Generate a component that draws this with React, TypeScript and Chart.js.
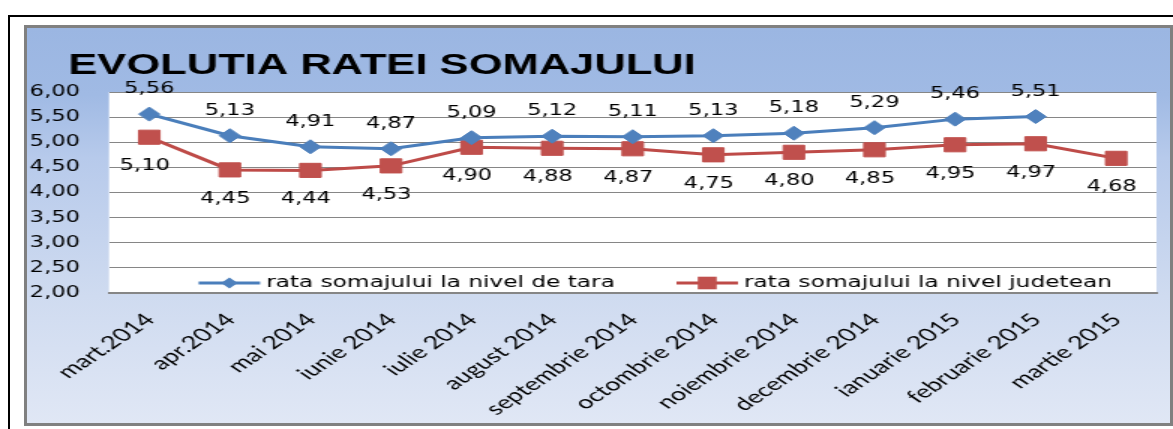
import React, { useEffect, useRef } from 'react';
import { Chart, registerables } from 'chart.js';

Chart.register(...registerables);

// ---- data ----
const categories = [
  'mart.2014', 'apr.2014', 'mai 2014', 'iunie 2014', 'iulie 2014', 'august 2014',
  'septembrie 2014', 'octombrie 2014', 'noiembrie 2014', 'decembrie 2014',
  'ianuarie 2015', 'februarie 2015', 'martie 2015',
];
const nationalRate: (number | null)[] = [5.56, 5.13, 4.91, 4.87, 5.09, 5.12, 5.11, 5.13, 5.18, 5.29, 5.46, 5.51, null];
const countyRate: (number | null)[] = [5.10, 4.45, 4.44, 4.53, 4.90, 4.88, 4.87, 4.75, 4.80, 4.85, 4.95, 4.97, 4.68];
const seriesLabels = ['rata somajului la nivel de tara', 'rata somajului la nivel judetean'];
const titleText = 'EVOLUTIA RATEI SOMAJULUI';
const yMin = 2;
const yMax = 6;
const yStep = 0.5;

// ---- look ----
const STRETCH = 1.5; // the whole picture is horizontally stretched
const PAGE_W = 1173;
const PAGE_H = 429;
const BLUE = '#4F81BD';
const RED = '#C0504D';
const GRID = '#868686';
const fmt = (v: number) => v.toFixed(2).replace('.', ',');

const plotBg = {
  id: 'plotBg',
  afterLayout(chart: any) {
    if (chart.titleBlock) chart.titleBlock.left = 45.5;
  },
  beforeDraw(chart: any) {
    const { ctx, chartArea: a } = chart;
    ctx.save();
    ctx.fillStyle = '#ffffff';
    ctx.fillRect(a.left, a.top, a.right - a.left, a.bottom - a.top);
    ctx.restore();
  },
};

const valueLabels = {
  id: 'valueLabels',
  afterDatasetsDraw(chart: any) {
    const ctx = chart.ctx;
    ctx.save();
    ctx.font = '15px "DejaVu Sans"';
    ctx.fillStyle = '#000';
    ctx.textAlign = 'center';
    ctx.textBaseline = 'middle';
    chart.data.datasets.forEach((ds: any, di: number) => {
      const meta = chart.getDatasetMeta(di);
      meta.data.forEach((pt: any, i: number) => {
        const v = ds.data[i];
        if (v == null) return;
        const dy = di === 0 ? -25 : 29;
        const dx = di === 0 ? 0 : -3;
        ctx.fillText(fmt(v), pt.x + dx, pt.y + dy);
      });
    });
    ctx.restore();
  },
};

function marker(ctx: any, style: string, x: number, y: number, r: number, color: string) {
  ctx.fillStyle = color;
  ctx.beginPath();
  if (style === 'rectRot') {
    ctx.moveTo(x - r, y);
    ctx.lineTo(x, y - r);
    ctx.lineTo(x + r, y);
    ctx.lineTo(x, y + r);
    ctx.closePath();
  } else {
    ctx.rect(x - r, y - r, 2 * r, 2 * r);
  }
  ctx.fill();
}

const insideLegend = {
  id: 'insideLegend',
  afterDraw(chart: any) {
    const { ctx, chartArea: a } = chart;
    ctx.save();
    ctx.font = '15.5px "DejaVu Sans"';
    const lineLen = 41;
    const gapText = 4;
    const gapItems = 41;
    const items = chart.data.datasets.map((ds: any) => ({ ds, w: ctx.measureText(ds.label).width }));
    const total = items.reduce((s: number, it: any) => s + lineLen + gapText + it.w, 0) + gapItems * (items.length - 1);
    let x = (a.left + a.right) / 2 - total / 2 + 15;
    const y = a.bottom - 10;
    items.forEach((it: any, idx: number) => {
      const ds = it.ds;
      ctx.strokeStyle = ds.borderColor;
      ctx.lineWidth = 3;
      ctx.beginPath();
      ctx.moveTo(x, y);
      ctx.lineTo(x + lineLen, y);
      ctx.stroke();
      marker(ctx, ds.pointStyle, x + lineLen / 2, y, idx === 0 ? 5.5 : 6.3, ds.pointBackgroundColor);
      ctx.fillStyle = '#000';
      ctx.textAlign = 'left';
      ctx.textBaseline = 'middle';
      ctx.fillText(ds.label, x + lineLen + gapText, y);
      x += lineLen + gapText + it.w + gapItems;
    });
    ctx.restore();
  },
};

export default function App() {
  const ref = useRef<HTMLCanvasElement | null>(null);

  useEffect(() => {
    if (!ref.current) return;
    const chart = new Chart(ref.current, {
      type: 'line',
      data: {
        labels: categories,
        datasets: [
          {
            label: seriesLabels[0],
            data: nationalRate,
            borderColor: '#4A7EBB',
            backgroundColor: BLUE,
            pointStyle: 'rectRot',
            pointRadius: 7,
            pointBorderWidth: 1,
            pointBackgroundColor: BLUE,
            pointBorderColor: BLUE,
            borderWidth: 3,
            tension: 0,
            spanGaps: false,
          },
          {
            label: seriesLabels[1],
            data: countyRate,
            borderColor: '#BE4B48',
            backgroundColor: RED,
            pointStyle: 'rect',
            pointRadius: 10,
            pointBorderWidth: 1,
            pointBackgroundColor: RED,
            pointBorderColor: RED,
            borderWidth: 3,
            tension: 0,
          },
        ],
      } as any,
      options: {
        animation: false,
        responsive: true,
        maintainAspectRatio: false,
        layout: { padding: { left: 18, right: 2, top: 0, bottom: 0 } },
        plugins: {
          legend: { display: false },
          tooltip: { enabled: false },
          title: {
            display: true,
            text: titleText,
            align: 'start',
            color: '#000',
            font: { family: '"Liberation Sans"', weight: 'bold', size: 29, lineHeight: 1.2 },
            padding: { top: 48.5, bottom: 8.7 },
          },
        },
        scales: {
          x: {
            offset: true,
            grid: { display: false },
            border: { display: true, color: GRID, width: 2 },
            ticks: {
              autoSkip: false,
              minRotation: 45,
              maxRotation: 45,
              color: '#000',
              padding: 8,
              labelOffset: 0.5,
              font: { family: 'Lato', size: 18 },
            },
            afterFit: (s: any) => { s.height = 136; },
          },
          y: {
            min: yMin,
            max: yMax,
            grid: { color: GRID, lineWidth: 1, drawTicks: false },
            border: { display: false },
            ticks: {
              stepSize: yStep,
              color: '#000',
              padding: 19.4,
              font: { family: '"DejaVu Sans"', size: 15 },
              callback: (v: any) => fmt(Number(v)),
            },
            afterFit: (s: any) => { s.width = 54.67; },
          },
        },
      } as any,
      plugins: [plotBg, valueLabels, insideLegend],
    });
    return () => chart.destroy();
  }, []);

  return (
    <div style={{ position: 'fixed', left: 0, top: 0, width: PAGE_W, height: PAGE_H, overflow: 'hidden', background: '#fff' }}>
      <div style={{ position: 'absolute', left: 8, top: 15, width: PAGE_W - 8, height: PAGE_H - 15, borderLeft: '2px solid #000', borderTop: '2px solid #000', boxSizing: 'border-box' }} />
      <div style={{
        position: 'absolute', left: 24, top: 25, width: PAGE_W - 24, height: 401, border: '3px solid #808080', boxSizing: 'border-box',
        background: 'linear-gradient(to bottom, #9BB6E2 0%, #A0BAE4 17%, #B7CAEB 33%, #CFDBF0 68%, #E0E7F5 100%)',
      }} />
      <div style={{ position: 'absolute', left: 0, top: 0, width: PAGE_W / STRETCH, height: PAGE_H, transform: `scaleX(${STRETCH})`, transformOrigin: '0 0' }}>
        <canvas ref={ref} />
      </div>
    </div>
  );
}
